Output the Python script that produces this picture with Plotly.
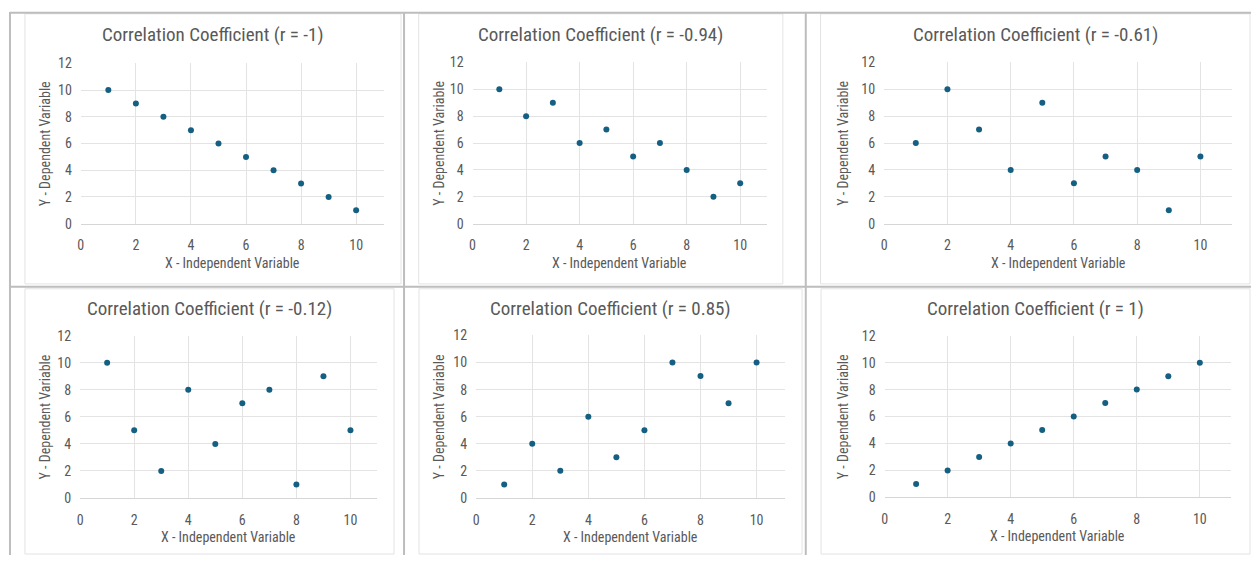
import plotly.graph_objects as go

W, H = 1251, 563

x_values = [1, 2, 3, 4, 5, 6, 7, 8, 9, 10]
y_r_neg1 = [10, 9, 8, 7, 6, 5, 4, 3, 2, 1]
y_r_neg094 = [10, 8, 9, 6, 7, 5, 6, 4, 2, 3]
y_r_neg061 = [6, 10, 7, 4, 9, 3, 5, 4, 1, 5]
y_r_neg012 = [10, 5, 2, 8, 4, 7, 8, 1, 9, 5]
y_r_085 = [1, 4, 2, 6, 3, 5, 10, 9, 7, 10]
y_r_1 = [1, 2, 3, 4, 5, 6, 7, 8, 9, 10]

titles = [
    "Correlation Coefficient (r = -1)",
    "Correlation Coefficient (r = -0.94)",
    "Correlation Coefficient (r = -0.61)",
    "Correlation Coefficient (r = -0.12)",
    "Correlation Coefficient (r = 0.85)",
    "Correlation Coefficient (r = 1)",
]
series = [y_r_neg1, y_r_neg094, y_r_neg061, y_r_neg012, y_r_085, y_r_1]
x_title = "X - Independent Variable"
y_title = "Y - Dependent Variable"
x_ticks = [0, 2, 4, 6, 8, 10]
y_ticks = [0, 2, 4, 6, 8, 10, 12]

# layout geometry in pixels: plot area (left, right, top, bottom), title centre x/y, ytitle x
panels = [
    dict(l=78, r=381.6, t=57, b=222, tx=210.5, ty=27, yx=41.7),
    dict(l=470.7, r=765.8, t=56, b=222, tx=599, ty=27.5, yx=436.7),
    dict(l=883.3, r=1232, t=56, b=222, tx=1035, ty=27.5, yx=841.7),
    dict(l=77.3, r=375.4, t=337.3, b=504.3, tx=206.7, ty=309.3, yx=41.7),
    dict(l=474.3, r=783.5, t=337, b=504.3, tx=609, ty=309.3, yx=436.7),
    dict(l=883.7, r=1231.3, t=337.3, b=503.7, tx=1034.5, ty=309.3, yx=841.7),
]
chart_boxes = [
    (22, 399, 6, 284), (416.7, 781.7, 6, 284), (819.5, 1250, 6, 284),
    (22, 392, 289, 562), (417, 801, 289, 562), (820, 1250, 289, 562),
]

FONT = "Liberation Sans Narrow, Roboto Condensed, Roboto, sans-serif"
TXT = "#595959"

def px(x):
    return x / W

def py(y):
    return 1 - y / H

fig = go.Figure()
annotations = []
shapes = []

for i, (p, ys, title) in enumerate(zip(panels, series, titles)):
    n = "" if i == 0 else str(i + 1)
    fig.add_trace(go.Scatter(
        x=x_values, y=ys, mode="markers",
        marker=dict(color="#156082", size=6),
        xaxis="x" + n, yaxis="y" + n, showlegend=False, hoverinfo="x+y",
    ))
    fig.update_layout(**{
        "xaxis" + n: dict(
            domain=[px(p["l"]), px(p["r"])], range=[0, 11], anchor="y" + n,
            tickvals=x_ticks, showgrid=True, gridcolor="#e3e3e3", gridwidth=1,
            zeroline=False, showline=True, linecolor="#d6d6d6", linewidth=1,
            ticks="", ticklabelstandoff=9, fixedrange=True,
            tickfont=dict(family=FONT, size=14, color=TXT),
        ),
        "yaxis" + n: dict(
            domain=[py(p["b"]), py(p["t"])], range=[0, 12], anchor="x" + n,
            tickvals=y_ticks, showgrid=True, gridcolor="#e3e3e3", gridwidth=1,
            zeroline=False, showline=False,
            ticks="", ticklabelstandoff=8, fixedrange=True,
            tickfont=dict(family=FONT, size=14, color=TXT),
        ),
    })
    annotations.append(dict(
        text=title, x=px(p["tx"]), y=py(p["ty"]), xref="paper", yref="paper",
        xanchor="center", yanchor="middle", showarrow=False,
        font=dict(family=FONT, size=19, color=TXT),
    ))
    annotations.append(dict(
        text=x_title, x=px((p["l"] + p["r"]) / 2), y=py(p["b"] + 40),
        xref="paper", yref="paper", xanchor="center", yanchor="middle",
        showarrow=False, font=dict(family=FONT, size=14, color=TXT),
    ))
    annotations.append(dict(
        text=y_title, x=px(p["yx"]), y=py((p["t"] + p["b"]) / 2),
        xref="paper", yref="paper", xanchor="center", yanchor="middle",
        textangle=-90, showarrow=False, font=dict(family=FONT, size=14, color=TXT),
    ))

for (x0, x1, y0, y1) in chart_boxes:
    shapes.append(dict(type="rect", xref="paper", yref="paper",
                       x0=px(x0), x1=px(x1), y0=py(y1), y1=py(y0),
                       line=dict(color="#e3e3e3", width=1), fillcolor="rgba(0,0,0,0)",
                       layer="below"))

GRID = "#bdbdbd"
for (x0, y0, x1, y1) in [
    (7, 5, 1251, 5), (7, 287, 1251, 287),
    (7, 4, 7, 563), (402, 4, 402, 563), (804.7, 4, 804.7, 563),
]:
    shapes.append(dict(type="line", xref="paper", yref="paper",
                       x0=px(x0), x1=px(x1), y0=py(y0), y1=py(y1),
                       line=dict(color=GRID, width=2)))

fig.update_layout(
    width=W, height=H, margin=dict(l=0, r=0, t=0, b=0, pad=0),
    paper_bgcolor="white", plot_bgcolor="white",
    annotations=annotations, shapes=shapes,
    font=dict(family=FONT, color=TXT),
)

fig.write_html(
    "out.html",
    config={"displayModeBar": False},
    post_script="document.body.style.margin='0';document.body.style.overflow='hidden';",
)
